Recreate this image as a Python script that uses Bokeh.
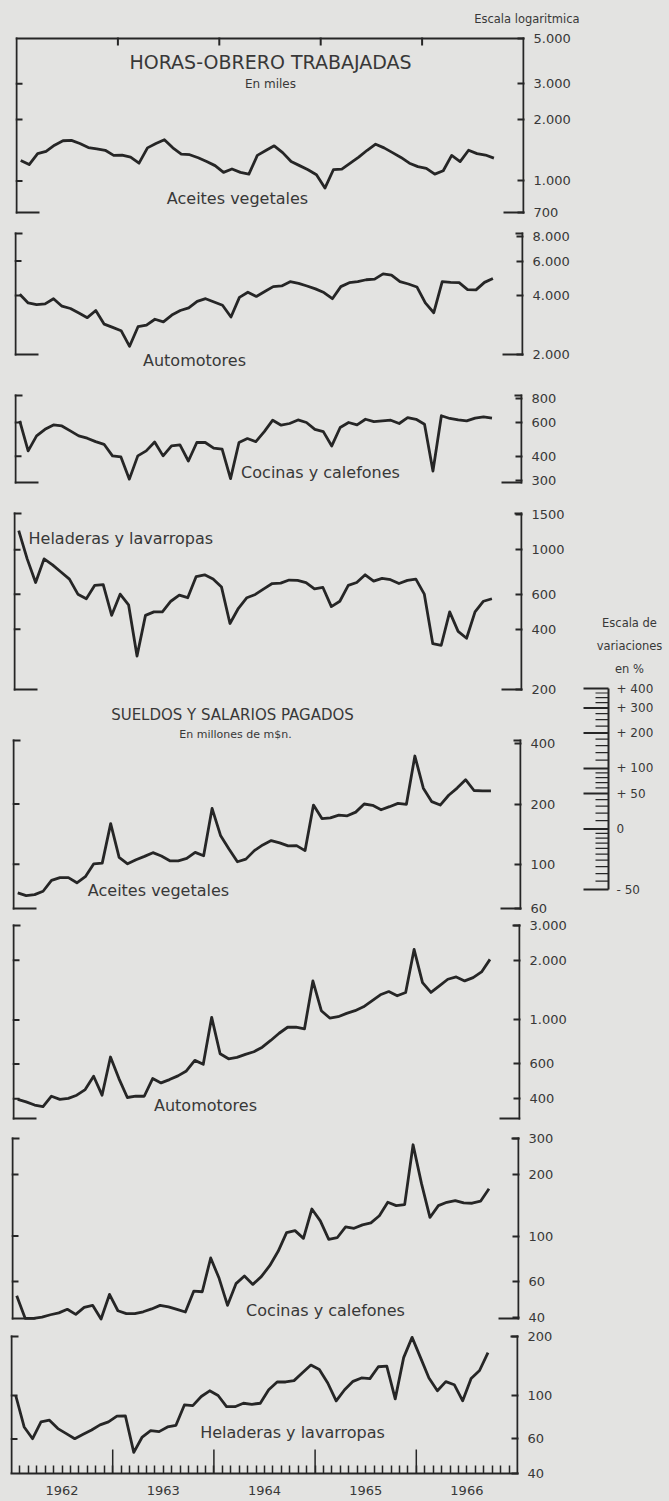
from bokeh.plotting import figure
from bokeh.models import FixedTicker, Range1d, LogAxis, LinearAxis, Label, Title
from bokeh.layouts import column, row
from bokeh.embed import file_html
from bokeh.resources import INLINE
from bokeh.core.properties import value

# ------------------------------------------------------------------ data
years = [1962, 1963, 1964, 1965, 1966]
year_labels = ["1962", "1963", "1964", "1965", "1966"]
months = [f"{y}-{m:02d}" for y in range(1962, 1967) for m in range(1, 13)][:57]

# HORAS-OBRERO TRABAJADAS (miles)
horas_aceites = [1260, 1203, 1361, 1398, 1498, 1575, 1581, 1527, 1458, 1436, 1414, 1335,
                 1340, 1309, 1222, 1453, 1527, 1594, 1453, 1355, 1345, 1299, 1245, 1189,
                 1101, 1144, 1101, 1080, 1335, 1409, 1487, 1377, 1245, 1189, 1135, 1072,
                 922, 1135, 1144, 1222, 1309, 1414, 1515, 1453, 1377, 1304, 1222, 1175,
                 1153, 1080, 1122, 1335, 1245, 1414, 1361, 1340, 1294]
horas_automotores = [4065, 3668, 3598, 3626, 3855, 3530, 3436, 3256, 3085, 3357, 2858, 2750,
                     2646, 2202, 2772, 2825, 3027, 2936, 3181, 3357, 3462, 3738, 3855, 3709,
                     3571, 3109, 3915, 4162, 3960, 4194, 4444, 4478, 4708, 4617, 4478, 4326,
                     4146, 3855, 4444, 4653, 4708, 4818, 4853, 5163, 5082, 4708, 4582, 4426,
                     3668, 3269, 4708, 4671, 4653, 4292, 4276, 4671, 4891]
horas_cocinas = [612, 427, 511, 553, 583, 576, 543, 511, 497, 477, 462, 402,
                 397, 304, 402, 427, 475, 402, 453, 459, 378, 472, 472, 441,
                 436, 306, 472, 495, 477, 538, 617, 581, 593, 619, 600, 553,
                 538, 453, 565, 600, 583, 624, 607, 612, 617, 593, 637, 624,
                 588, 335, 651, 630, 619, 612, 633, 642, 633]
horas_heladeras = [1248, 901, 686, 901, 841, 775, 714, 600, 569, 664, 670, 470,
                   600, 531, 294, 470, 489, 489, 553, 593, 576, 735, 750, 714,
                   651, 428, 510, 576, 598, 638, 678, 681, 706, 703, 686, 638,
                   648, 520, 553, 664, 686, 750, 697, 720, 709, 678, 703, 714,
                   600, 339, 333, 489, 391, 361, 489, 553, 569]

# SUELDOS Y SALARIOS PAGADOS (millones de m$n.)
sueldos_aceites = [71.8, 69.6, 70.4, 73.2, 82.9, 85.6, 85.6, 80.7, 86.6, 100.4, 101.2, 159.6,
                   108.1, 100.4, 105.2, 109.4, 114.2, 109.8, 104.0, 104.0, 106.8, 114.6, 110.2, 190.2,
                   139.3, 119.2, 102.8, 106.0, 116.9, 124.9, 131.3, 127.8, 123.4, 123.9, 116.9, 197.7,
                   169.2, 170.5, 175.9, 174.6, 182.2, 200.1, 197.0, 187.3, 194.0, 201.6, 199.3, 347.9,
                   240.0, 205.6, 197.7, 221.4, 240.3, 264.9, 233.8, 232.9, 232.9]
sueldos_automotores = [397, 386, 372, 365, 412, 397, 402, 417, 445, 520, 417, 650,
                       506, 406, 412, 412, 506, 481, 500, 522, 553, 625, 597, 1031,
                       675, 637, 647, 670, 691, 729, 788, 857, 919, 919, 901, 1575,
                       1114, 1023, 1039, 1080, 1114, 1166, 1250, 1340, 1392, 1325, 1377, 2271,
                       1545, 1377, 1487, 1606, 1650, 1575, 1637, 1748, 2023]
sueldos_cocinas = [51.0, 39.6, 39.6, 40.1, 41.2, 42.1, 43.8, 41.4, 44.8, 45.8, 39.3, 51.8,
                   43.1, 41.7, 41.7, 42.6, 44.0, 45.8, 45.0, 43.8, 42.5, 53.8, 53.4, 78.1,
                   62.1, 45.8, 58.5, 63.8, 58.0, 63.3, 71.6, 84.2, 103.9, 106.3, 97.4, 135.6,
                   118.7, 96.3, 98.1, 110.8, 109.1, 113.4, 116.0, 125.7, 146.3, 140.9, 142.5, 279.5,
                   180.4, 123.3, 140.9, 146.3, 149.1, 145.2, 144.7, 148.0, 170.4]
sueldos_heladeras = [100.0, 69.1, 60.2, 73.4, 74.8, 67.8, 63.9, 60.2, 63.4, 66.7, 70.8, 73.4,
                     78.5, 78.8, 51.3, 61.4, 66.2, 65.4, 69.1, 70.5, 89.5, 88.8, 98.8, 105.7,
                     100.0, 87.7, 87.7, 91.3, 90.2, 91.3, 107.0, 117.2, 117.2, 119.1, 130.5, 143.0,
                     135.8, 115.8, 93.9, 107.0, 118.1, 122.9, 122.0, 140.2, 141.3, 96.1, 156.0, 198.0,
                     156.0, 122.9, 105.7, 117.7, 113.5, 93.9, 122.0, 134.1, 165.6]

# right-axis ticks and labels of each panel
ticks_1 = [700, 1000, 2000, 3000, 5000]
tlab_1 = ["700", "1.000", "2.000", "3.000", "5.000"]
ticks_2 = [2000, 4000, 6000, 8000]
tlab_2 = ["2.000", "4.000", "6.000", "8.000"]
ticks_3 = [300, 400, 600, 800]
tlab_3 = ["300", "400", "600", "800"]
ticks_4 = [200, 400, 600, 1000, 1500]
tlab_4 = ["200", "400", "600", "1000", "1500"]
ticks_5 = [60, 100, 200, 400]
tlab_5 = ["60", "100", "200", "400"]
ticks_6 = [400, 600, 1000, 2000, 3000]
tlab_6 = ["400", "600", "1.000", "2.000", "3.000"]
ticks_7 = [40, 60, 100, 200, 300]
tlab_7 = ["40", "60", "100", "200", "300"]
ticks_8 = [40, 60, 100, 200]
tlab_8 = ["40", "60", "100", "200"]

# scale of percentage variations
var_pct = [-50, 0, 50, 100, 200, 300, 400]
var_labels = ["- 50", "0", "+ 50", "+ 100", "+ 200", "+ 300", "+ 400"]
var_minor_pct = [-45, -40, -35, -30, -25, -20, -15, -10, -5, 10, 20, 30, 40, 60, 70, 80, 90,
                 120, 140, 160, 180, 225, 250, 275, 325, 350, 375]

# ------------------------------------------------------------------ style
BG = "#e3e3e1"
INK = "#262626"
TXT = "#383838"
FONT = "DejaVu Sans"


def month_x(s):
    y, m = s.split("-")
    return int(y) + (int(m) - 0.5) / 12.0


xs = [month_x(s) for s in months]


def panel(values, ticks, tlabs, left_ticks, lo, hi, geo, texts,
          top_line=False, bottom_axis=False, title=None):
    top, bot, left, right, c_top, c_bot, width = geo
    b_top = 28 if title else 0
    f_top = c_top + b_top
    f_bot = bot if bottom_axis else c_bot
    span = bot - top
    ratio = hi / lo

    def yv(py):
        return lo * ratio ** ((bot - py) / span)

    def xv(px):
        return 1962 + 5.0 * (px - left) / (right - left)

    ttl = None
    if title:
        ttl = Title(text=title, align="right", offset=-(579 - (right + 1)), standoff=4,
                    vertical_align="middle", text_font=FONT, text_font_size="11.5px",
                    text_font_style="normal", text_color=TXT)
    p = figure(width=width, height=c_bot - c_top, y_axis_type="log",
               x_range=Range1d(xv(left - 1), xv(right + 1)),
               y_range=Range1d(yv(f_bot), yv(f_top)),
               x_axis_location=None, y_axis_location=None, title=ttl,
               output_backend="svg", toolbar_location=None, frame_align=False,
               min_border_left=left - 1, min_border_right=width - (right + 1),
               min_border_top=b_top, min_border_bottom=c_bot - f_bot,
               background_fill_color=BG, border_fill_color=BG,
               outline_line_color=None)
    p.grid.visible = False

    # right scale: ticks and labels from the library's log axis
    ra = LogAxis(ticker=FixedTicker(ticks=ticks),
                 major_label_overrides=dict(zip(ticks, tlabs)),
                 axis_line_color=None,
                 major_tick_in=7, major_tick_out=0,
                 major_tick_line_color=INK, major_tick_line_width=2,
                 major_label_text_font=FONT, major_label_text_font_size="13px",
                 major_label_text_color=TXT, major_label_standoff=9)
    p.add_layout(ra, "right")

    # bracket frame
    x0, y0, x1, y1 = [], [], [], []

    def seg(a, b, c, d):
        x0.append(a); y0.append(b); x1.append(c); y1.append(d)

    seg(1962, lo, 1962, hi)
    seg(1967, lo, 1967, hi)
    if not bottom_axis:
        seg(1962, lo, xv(left + 22), lo)
        seg(xv(right - 19), lo, 1967, lo)
    if top_line:
        seg(1962, hi, 1967, hi)
        for yr in years[1:]:
            seg(yr, hi, yr, yv(top + 6))
    else:
        seg(1962, hi, xv(left + 6), hi)
        seg(xv(right - 6), hi, 1967, hi)
    for t in left_ticks:
        seg(1962, t, xv(left + 5), t)
    p.segment(x0=x0, y0=y0, x1=x1, y1=y1, line_color=INK, line_width=2, line_cap="square")

    if bottom_axis:
        mids = [y + 0.5 for y in years]
        bounds = [1962 + k / 12.0 for k in range(1, 60)]
        ba = LinearAxis(ticker=FixedTicker(ticks=mids, minor_ticks=bounds),
                        major_label_overrides=dict(zip(mids, year_labels)),
                        axis_line_color=INK, axis_line_width=2,
                        major_tick_in=0, major_tick_out=0,
                        minor_tick_in=8, minor_tick_out=0,
                        minor_tick_line_color=INK, minor_tick_line_width=1.5,
                        major_label_text_font=FONT, major_label_text_font_size="13px",
                        major_label_text_color=TXT, major_label_standoff=12)
        p.add_layout(ba, "below")
        ytick = yv(bot - 24)
        p.segment(x0=years[1:], y0=[lo] * 4, x1=years[1:], y1=[ytick] * 4,
                  line_color=INK, line_width=1.5)

    p.line(xs, values, line_color=INK, line_width=2.8, line_join="round")

    for (t, px, py, size, align) in texts:
        p.add_layout(Label(x=xv(px), y=yv(py), text=t, text_font=FONT,
                           text_font_size=f"{size}px", text_color=TXT,
                           text_align=align, text_baseline="middle"))
    return p


p1 = panel(horas_aceites, ticks_1, tlab_1, [1000, 2000, 3000], 700, 5000,
           (38, 212, 16, 523, 0, 222, 590),
           [("HORAS-OBRERO TRABAJADAS", 270, 61, 19, "center"),
            ("En miles", 270, 83, 12, "center"),
            ("Aceites vegetales", 237, 198, 16, "center")],
           top_line=True, title="Escala logaritmica")
p2 = panel(horas_automotores, ticks_2, tlab_2, [4000, 6000], 2000, 8300,
           (233, 354, 15, 522, 222, 374, 590),
           [("Automotores", 194, 360, 16, "center")])
p3 = panel(horas_cocinas, ticks_3, tlab_3, [400, 600], 292, 830,
           (395, 482, 15, 521, 374, 500, 590),
           [("Cocinas y calefones", 320, 472, 16, "center")])
p4 = panel(horas_heladeras, ticks_4, tlab_4, [400, 600, 1000], 200, 1520,
           (513, 689, 14, 521, 500, 700, 568),
           [("Heladeras y lavarropas", 28, 538, 16, "left")])
p5 = panel(sueldos_aceites, ticks_5, tlab_5, [100, 200], 60, 416,
           (740, 908, 13, 520, 700, 918, 568),
           [("SUELDOS Y SALARIOS PAGADOS", 232, 714, 15, "center"),
            ("En millones de m$n.", 235, 734, 11, "center"),
            ("Aceites vegetales", 158, 890, 16, "center")])
p6 = panel(sueldos_automotores, ticks_6, tlab_6, [400, 600, 1000, 2000], 318, 3000,
           (925, 1118, 13, 519, 918, 1128, 590),
           [("Automotores", 205, 1105, 16, "center")])
p7 = panel(sueldos_cocinas, ticks_7, tlab_7, [60, 100, 200], 39.5, 300,
           (1138, 1318, 12, 518, 1128, 1328, 590),
           [("Cocinas y calefones", 325, 1310, 16, "center")])
p8 = panel(sueldos_heladeras, ticks_8, tlab_8, [60, 100], 40, 200,
           (1336, 1473, 11, 517, 1328, 1500, 590),
           [("Heladeras y lavarropas", 292, 1432, 16, "center")],
           bottom_axis=True)


# ----- scale of variations (ratio = 1 + pct/100 on the same log spacing)
def rv(py):
    return 5 * 10 ** ((688 - py) / 201.0)


ps = figure(width=100, height=418, y_axis_type="log",
            x_range=Range1d(568, 668), y_range=Range1d(rv(918), rv(500)),
            x_axis_location=None, y_axis_location=None, title=None,
            output_backend="svg", toolbar_location=None, frame_align=False,
            min_border_left=0, min_border_right=0,
            min_border_top=0, min_border_bottom=0,
            background_fill_color=BG, border_fill_color=BG,
            outline_line_color=None)
ps.grid.visible = False
ratios = [1 + v / 100.0 for v in var_pct]
minor_ratios = [1 + v / 100.0 for v in var_minor_pct]
ps.segment(x0=[608], y0=[min(ratios)], x1=[608], y1=[max(ratios)],
           line_color=INK, line_width=2)
ps.segment(x0=[583] * len(ratios), y0=ratios, x1=[608] * len(ratios), y1=ratios,
           line_color=INK, line_width=2)
ps.segment(x0=[595] * len(minor_ratios), y0=minor_ratios,
           x1=[608] * len(minor_ratios), y1=minor_ratios,
           line_color=INK, line_width=1.2)
ps.text(x=[616] * len(ratios), y=ratios, text=var_labels,
        text_font=value(FONT), text_font_size="12px", text_color=TXT,
        text_align="left", text_baseline="middle")
for t, py in [("Escala de", 622), ("variaciones", 645), ("en %", 668)]:
    ps.add_layout(Label(x=629, y=rv(py), text=t, text_font=FONT, text_font_size="11.5px",
                        text_color=TXT, text_align="center", text_baseline="middle"))

layout = column(p1, p2, p3, row(column(p4, p5), ps), p6, p7, p8)

html = file_html(layout, INLINE, title="Horas-obrero y sueldos")
html = html.replace("</head>", "<style>html,body{background-color:#e3e3e1;}</style></head>", 1)
open("out.html", "w").write(html)
